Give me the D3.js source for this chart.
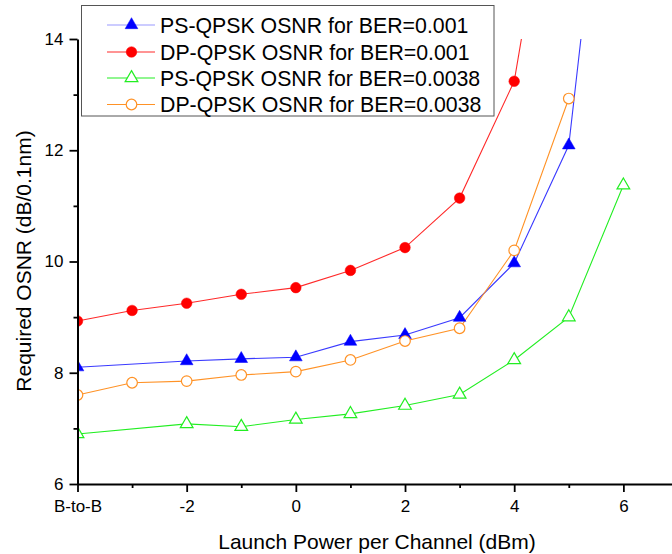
<!DOCTYPE html>
<html>
<head>
<meta charset="utf-8">
<script src="https://cdn.jsdelivr.net/npm/d3@7"></script>
<style>
  html, body { margin: 0; padding: 0; background: #fff; }
  svg { display: block; font-family: "Liberation Sans", Arial, sans-serif; }
</style>
</head>
<body>
<svg id="chart" width="672" height="554"></svg>
<script>
// ---- data ----
const xPS = [-4, -2, -1, 0, 1, 2, 3, 4, 5, 6];
const xDP = [-4, -3, -2, -1, 0, 1, 2, 3, 4, 5];
const psQpsk001  = [8.10, 8.21, 8.25, 8.28, 8.56, 8.68, 8.99, 9.97, 12.09, 20.7];
const dpQpsk001  = [8.93, 9.12, 9.25, 9.41, 9.53, 9.84, 10.25, 11.14, 13.24, 19.0];
const psQpsk0038 = [6.90, 7.08, 7.03, 7.16, 7.26, 7.41, 7.61, 8.23, 9.00, 11.37];
const dpQpsk0038 = [7.60, 7.82, 7.85, 7.96, 8.02, 8.23, 8.57, 8.80, 10.20, 12.93];
const seriesNames = [
  "PS-QPSK OSNR for BER=0.001",
  "DP-QPSK OSNR for BER=0.001",
  "PS-QPSK OSNR for BER=0.0038",
  "DP-QPSK OSNR for BER=0.0038"
];
const xTickValues = [-4, -2, 0, 2, 4, 6];
const xTickLabels = ["B-to-B", "-2", "0", "2", "4", "6"];
const xMinorTicks = [-3, -1, 1, 3, 5];
const yTickValues = [6, 8, 10, 12, 14];
const yMinorTicks = [7, 9, 11, 13];
const xTitle = "Launch Power per Channel (dBm)";
const yTitle = "Required OSNR (dB/0.1nm)";

// ---- styles ----
const styles = [
  { color: "#0000ff", line: "#3a3aff", shape: d3.symbolTriangle, fill: true },
  { color: "#ff0000", line: "#ff2a2a", shape: d3.symbolCircle, fill: true },
  { color: "#22ee22", line: "#22ee22", shape: d3.symbolTriangle, fill: false },
  { color: "#ff9226", line: "#ff9226", shape: d3.symbolCircle, fill: false }
];
const series = [
  { name: seriesNames[0], xs: xPS, ys: psQpsk001 },
  { name: seriesNames[1], xs: xDP, ys: dpQpsk001 },
  { name: seriesNames[2], xs: xPS, ys: psQpsk0038 },
  { name: seriesNames[3], xs: xDP, ys: dpQpsk0038 }
].map((s, i) => Object.assign(s, styles[i], { pts: s.xs.map((x, j) => [x, s.ys[j]]) }));

const svg = d3.select("#chart");
const pLeft = 77.5, pRight = 672.5, pTop = 39, pBottom = 484;

const x = d3.scaleLinear().domain([-4, 6.9]).range([pLeft, pRight]);
const y = d3.scaleLinear().domain([6, 14]).range([pBottom, pTop]);

svg.append("defs").append("clipPath").attr("id", "plotClip")
  .append("rect").attr("x", pLeft).attr("y", pTop)
  .attr("width", pRight - pLeft).attr("height", pBottom - pTop);

// ---- series ----
const plot = svg.append("g").attr("clip-path", "url(#plotClip)");
const line = d3.line().x(d => x(d[0])).y(d => y(d[1]));
const symSize = s => s === d3.symbolTriangle ? 70 : 88;

series.forEach(s => {
  plot.append("path").datum(s.pts)
    .attr("d", line).attr("fill", "none")
    .attr("stroke", s.line).attr("stroke-width", 1.1);
});
series.forEach(s => {
  plot.selectAll(null).data(s.pts).enter().append("path")
    .attr("transform", d => `translate(${x(d[0])},${y(d[1])})`)
    .attr("d", d3.symbol().type(s.shape).size(symSize(s.shape)))
    .attr("fill", s.fill ? s.color : "#fff")
    .attr("stroke", s.color).attr("stroke-width", s.fill ? 0.5 : 1.2);
});

// ---- axes ----
const fontSize = 17;
svg.append("g").attr("transform", `translate(0,${pBottom})`)
  .call(d3.axisBottom(x).tickValues(xTickValues)
    .tickFormat((d, i) => xTickLabels[i]).tickSize(8).tickSizeOuter(0).tickPadding(8));
svg.append("g").attr("transform", `translate(0,${pBottom})`)
  .call(d3.axisBottom(x).tickValues(xMinorTicks).tickFormat("").tickSize(4).tickSizeOuter(0))
  .select(".domain").remove();

svg.append("g").attr("transform", `translate(${pLeft},0)`)
  .call(d3.axisLeft(y).tickValues(yTickValues).tickSize(8).tickSizeOuter(0).tickPadding(6));
svg.append("g").attr("transform", `translate(${pLeft},0)`)
  .call(d3.axisLeft(y).tickValues(yMinorTicks).tickFormat("").tickSize(4).tickSizeOuter(0))
  .select(".domain").remove();

svg.selectAll(".domain").attr("stroke", "#000").attr("stroke-width", 2);
svg.selectAll(".tick line").attr("stroke", "#000").attr("stroke-width", 1.8);
svg.selectAll(".tick text").attr("font-size", fontSize)
  .attr("font-family", '"Liberation Sans", Arial, sans-serif').attr("fill", "#000");

// ---- titles ----
svg.append("text").attr("x", 377).attr("y", 549).attr("text-anchor", "middle")
  .attr("font-size", 21).attr("fill", "#000").text(xTitle);
svg.append("text").attr("transform", "translate(31,261) rotate(-90)")
  .attr("text-anchor", "middle").attr("font-size", 21).attr("fill", "#000").text(yTitle);

// ---- legend ----
const lg = svg.append("g");
lg.append("rect").attr("x", 81.5).attr("y", 5.5).attr("width", 412.5).attr("height", 110.5)
  .attr("fill", "#fff").attr("stroke", "#555").attr("stroke-width", 1);
const rowY = [25, 52, 78, 104.5];
series.forEach((s, i) => {
  const g = lg.append("g").attr("transform", `translate(0,${rowY[i]})`);
  g.append("line").attr("x1", 107).attr("x2", 155).attr("y1", 0).attr("y2", 0)
    .attr("stroke", i === 0 ? "#9a9aff" : s.line).attr("stroke-width", 1.2);
  g.append("path").attr("transform", "translate(131.5,0)")
    .attr("d", d3.symbol().type(s.shape).size(symSize(s.shape)))
    .attr("fill", s.fill ? s.color : "#fff").attr("stroke", s.color)
    .attr("stroke-width", s.fill ? 0.5 : 1.2);
  g.append("text").attr("x", 160).attr("y", 0).attr("dy", "0.36em")
    .attr("font-size", 21.3).attr("fill", "#000").text(s.name);
});
</script>
</body>
</html>
